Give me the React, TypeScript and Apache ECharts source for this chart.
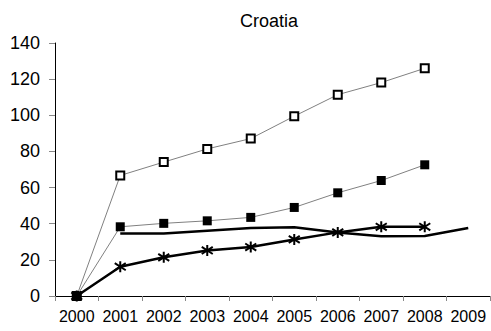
import React, { useEffect, useRef } from "react";
import * as echarts from "echarts";

const title = "Croatia";
const years = ["2000", "2001", "2002", "2003", "2004", "2005", "2006", "2007", "2008", "2009"];
const openSquares = [0, 66.7, 74.1, 81.4, 87.1, 99.5, 111.4, 118.1, 126.0, null];
const filledSquares = [0, 38.3, 40.2, 41.6, 43.5, 49.0, 57.1, 63.9, 72.6, null];
const stars = [0, 16.2, 21.4, 25.2, 27.1, 31.3, 35.2, 38.3, 38.3, null];
const plainLine = [null, 34.6, 34.6, 36.1, 37.6, 38.1, 35.2, 33.0, 33.2, 37.6];
const yTicks = { min: 0, max: 140, interval: 20 };

const FONT = "'Liberation Sans', Arial, sans-serif";
const STAR = "path://M5,0 L5,10 M0.8,1.8 L9.2,8.2 M0.8,8.2 L9.2,1.8";

export default function App() {
  const ref = useRef<HTMLDivElement>(null);
  useEffect(() => {
    if (!ref.current) return;
    const chart = echarts.init(ref.current, null, { renderer: "svg" });
    chart.setOption({
      animation: false,
      backgroundColor: "#ffffff",
      title: {
        text: title,
        left: 264,
        textAlign: "center",
        top: 7,
        textStyle: { fontFamily: FONT, fontSize: 18, fontWeight: "normal", color: "#000" },
      },
      grid: { left: 55, right: 1, top: 43, bottom: 35, containLabel: false },
      xAxis: {
        type: "category",
        data: years,
        boundaryGap: true,
        axisLine: { show: true, lineStyle: { color: "#000", width: 1 } },
        axisTick: { show: true, length: 5, lineStyle: { color: "#888" } },
        axisLabel: { fontFamily: FONT, fontSize: 16, color: "#000", margin: 12, interval: 0 },
        splitLine: { show: false },
      },
      yAxis: {
        type: "value",
        min: yTicks.min,
        max: yTicks.max,
        interval: yTicks.interval,
        axisLine: { show: true, lineStyle: { color: "#000", width: 1 } },
        axisTick: { show: true, length: 6, lineStyle: { color: "#888" } },
        axisLabel: { fontFamily: FONT, fontSize: 18, color: "#000", margin: 15 },
        splitLine: { show: false },
      },
      series: [
        {
          type: "line",
          data: openSquares,
          symbol: "rect",
          symbolSize: 8,
          lineStyle: { color: "#808080", width: 1 },
          itemStyle: { color: "#fff", borderColor: "#000", borderWidth: 2 },
          z: 2,
        },
        {
          type: "line",
          data: plainLine,
          showSymbol: false,
          symbol: "none",
          lineStyle: { color: "#000", width: 2.5 },
          z: 3,
        },
        {
          type: "line",
          data: stars,
          symbol: STAR,
          symbolSize: 11,
          lineStyle: { color: "#000", width: 2.5 },
          itemStyle: { color: "none", borderColor: "#000", borderWidth: 2 },
          z: 4,
        },
        {
          type: "line",
          data: filledSquares,
          symbol: "rect",
          symbolSize: 9,
          lineStyle: { color: "#808080", width: 1 },
          itemStyle: { color: "#000", borderColor: "#000", borderWidth: 0 },
          z: 5,
        },
      ],
    });
    return () => chart.dispose();
  }, []);
  return (
    <div
      ref={ref}
      style={{ position: "fixed", left: 0, top: 0, width: 491, height: 331, background: "#fff" }}
    />
  );
}
